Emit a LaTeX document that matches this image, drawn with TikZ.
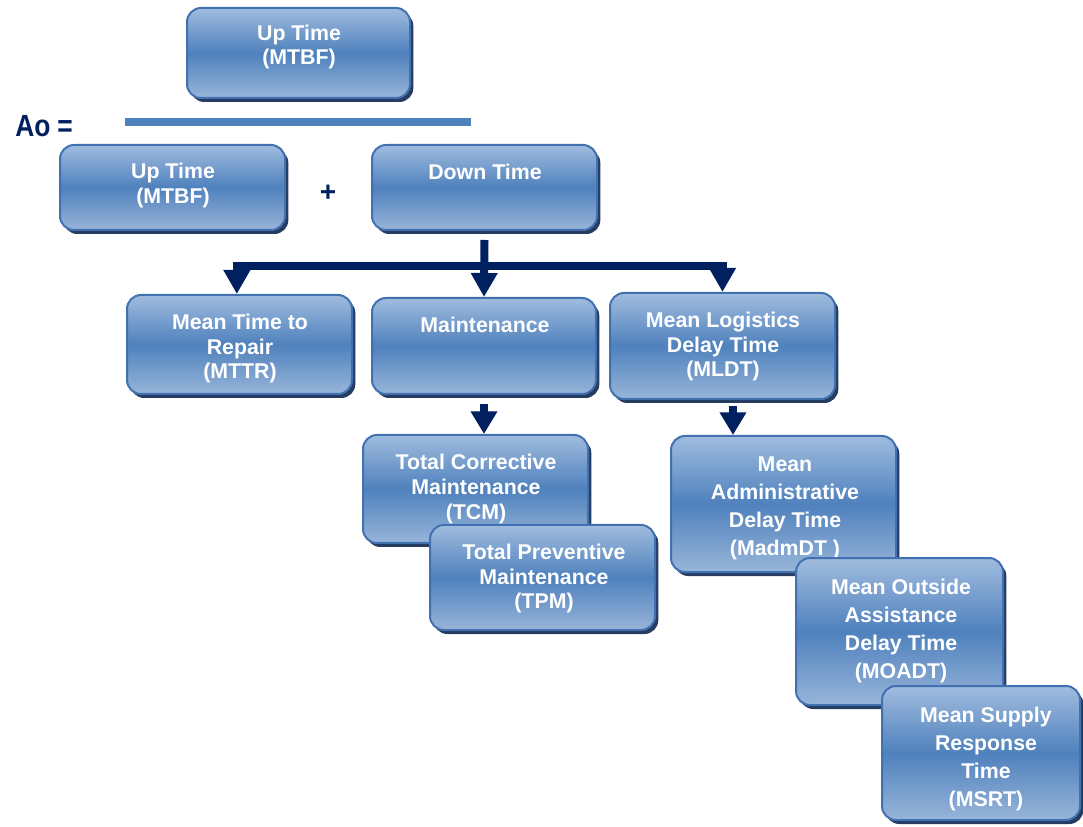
\documentclass[tikz,border=0pt]{standalone}
\usepackage{fontspec}
\usepackage{graphicx}
\setmainfont{Liberation Sans}
\usetikzlibrary{arrows.meta,shadows,calc}
\definecolor{navy}{RGB}{0,32,96}
\definecolor{boxtop}{RGB}{160,188,222}
\definecolor{boxmid}{RGB}{79,129,189}
\definecolor{boxbot}{RGB}{152,181,217}
\definecolor{boxedge}{RGB}{65,113,176}
\definecolor{boxshadow}{RGB}{38,60,96}
\definecolor{fracline}{RGB}{79,129,189}
\begin{document}
\begin{tikzpicture}[x=0.75pt,y=-0.75pt,
  box/.style={draw=boxedge, line width=1.5pt, rounded corners=10.5pt,
    top color=boxtop, bottom color=boxbot, middle color=boxmid,
    drop shadow={shadow xshift=2.5pt, shadow yshift=-3pt, fill=boxshadow, opacity=1}},
  txt/.style={text=white, font=\bfseries\fontsize{16}{18.5}\selectfont, align=center, inner sep=0pt},
  txtb/.style={text=white, font=\bfseries\fontsize{16}{21}\selectfont, align=center, inner sep=0pt},
  conn/.style={draw=navy, line width=6pt, line join=miter},
  tip/.style={-{Triangle[width=19pt,length=18pt]}},
  bigsign/.style={text=navy, font=\bfseries\fontsize{21}{24}\selectfont, inner sep=0pt}
]
\useasboundingbox (0,0) rectangle (1083,827);

% fraction
\node[bigsign, font=\bfseries\fontsize{23}{26}\selectfont] (ao) at (44,126) {\scalebox{0.86}[1]{\bfseries Ao\hspace{6pt}=}};
\coordinate (fl) at (125,122);
\coordinate (fr) at (471,122);
\draw[draw=fracline, line width=6pt] (fl) -- (fr);
\node[bigsign] (plus) at (328,193) {+};

% boxes
\node[box, minimum width=167.25pt, minimum height=67.5pt] (up1) at (298.5,53) {};
\node[txt] (t1) at (299,47) {Up Time\\(MTBF)};

\node[box, minimum width=168.75pt, minimum height=63.75pt] (up2) at (172.5,187.5) {};
\node[txt] (t2) at (173,185.5) {Up Time\\(MTBF)};

\node[box, minimum width=168.75pt, minimum height=63.75pt] (down) at (484.5,187.5) {};
\node[txt] (t3) at (485,172) {Down Time};

\node[box, minimum width=168.75pt, minimum height=74.25pt] (mttr) at (239.5,344.5) {};
\node[txt] (t4) at (240,348.5) {Mean Time to\\Repair\\(MTTR)};

\node[box, minimum width=168pt, minimum height=72pt] (maint) at (484,346) {};
\node[txt] (t5) at (485,325) {Maintenance};

\node[box, minimum width=168.75pt, minimum height=79.5pt] (mldt) at (722.5,346) {};
\node[txt] (t6) at (723,346.5) {Mean Logistics\\Delay Time\\(MLDT)};

\node[box, minimum width=168.75pt, minimum height=81pt] (tcm) at (475.5,489) {};
\node[txt] (t7) at (476,489) {Total Corrective\\Maintenance\\(TCM)};

\node[box, minimum width=168.75pt, minimum height=78.75pt] (tpm) at (542.5,577.5) {};
\node[txt] (t8) at (544,578.5) {Total Preventive\\Maintenance\\(TPM)};

\node[box, minimum width=168.75pt, minimum height=102pt] (madm) at (783.5,504) {};
\node[txtb] (t9) at (785,508.5) {Mean\\Administrative\\Delay Time\\(MadmDT )};

\node[box, minimum width=155.25pt, minimum height=110.25pt] (moadt) at (899.5,631.5) {};
\node[txtb] (t10) at (901,631) {Mean Outside\\Assistance\\Delay Time\\(MOADT)};

\node[box, minimum width=148.5pt, minimum height=100.5pt] (msrt) at (981,753) {};
\node[txtb] (t11) at (986,759) {Mean Supply\\Response\\Time\\(MSRT)};

% connectors
\coordinate (hb) at (484,266);
\draw[conn, tip] ($(down.south)+(0,9)$) -- (maint.north);
\draw[conn, {Triangle[width=19pt,length=18pt]}-{Triangle[width=19pt,length=18pt]}]
  ([xshift=-2pt]mttr.north) |- (hb) -| (mldt.north);
\draw[conn, -{Triangle[width=19pt,length=17pt]}] ($(maint.south)+(0,9)$) coordinate (ms) -- (ms |- tcm.north);
\draw[conn, -{Triangle[width=19pt,length=17pt]}] ($(mldt.south)+(10.5,6)$) coordinate (ls) -- (ls |- madm.north);
\end{tikzpicture}
\end{document}
